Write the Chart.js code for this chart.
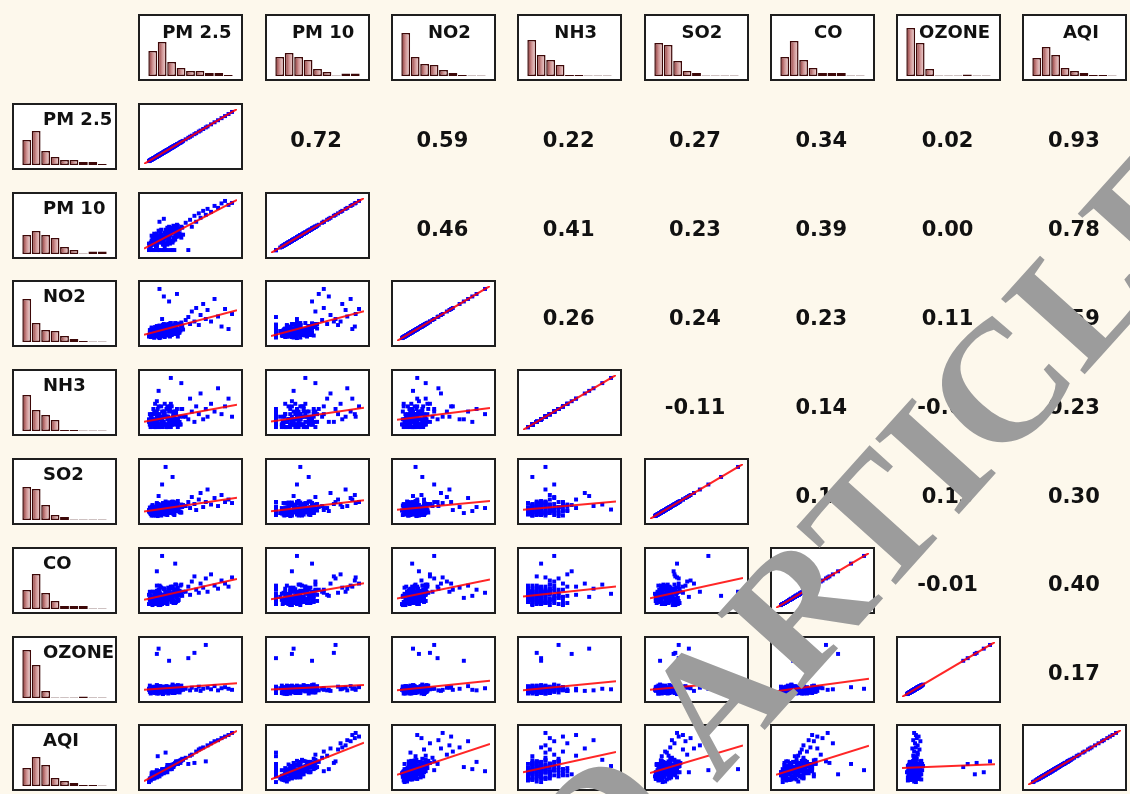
<!DOCTYPE html>
<html lang="en">
<head>
<meta charset="utf-8">
<title>Matriz de correlación</title>
<script src="https://cdn.jsdelivr.net/npm/chart.js@4.4.1/dist/chart.umd.min.js"></script>
<style>
  html, body { margin: 0; padding: 0; }
  body { width: 1130px; height: 794px; background: #fdf8ec; position: relative; overflow: hidden; }
  .cell { position: absolute; width: 105px; height: 67px; box-sizing: border-box; border: 2px solid #1e1e1e; background: #fff; overflow: hidden; }
  .cell canvas { position: absolute; left: 0; top: 0; }
  .titulo { position: absolute; font: bold 18px 'DejaVu Sans', sans-serif; line-height: 1; color: #111; white-space: nowrap; }
  .arriba { left: 0; width: 100%; top: 7px; text-align: center; padding-left: 12px; box-sizing: border-box; }
  .lado { left: 29px; top: 5px; }
  .corr { position: absolute; width: 105px; height: 67px; display: flex; align-items: center; justify-content: center; font: bold 21px 'DejaVu Sans', sans-serif; color: #111; transform: translate(-1px, 4px); }
  #marca { position: absolute; left: 0; top: 0; pointer-events: none; z-index: 10; }
</style>
</head>
<body>
<svg id="marca" width="1130" height="794">
  <g transform="translate(716 784) rotate(-48)" font-family="'Liberation Serif', serif" font-weight="bold" font-size="172" fill="#9c9c9c">
    <text x="0" y="0">ARTICLE PREVIEW</text>
    <text x="-43" y="0" text-anchor="end">ACCEPTED</text>
  </g>
</svg>
<script>
// Nombres de las variables
const variables = ['PM 2.5', 'PM 10', 'NO2', 'NH3', 'SO2', 'CO', 'OZONE', 'AQI'];

// Observaciones (mismo índice = misma medición)
const pm25 = [5, 8, 12, 15, 18, 22, 25, 28, 32, 35,
  6, 9, 13, 16, 19, 23, 26, 29, 33, 38,
  4, 7, 10, 14, 17, 20, 24, 27, 30, 36,
  3, 11, 14, 18, 21, 24, 28, 31, 34, 40,
  7, 9, 12, 15, 19, 22, 25, 29, 32, 37,
  5, 8, 13, 16, 20, 23, 26, 30, 34, 42,
  10, 17, 21, 27, 31, 36, 6, 12, 24, 39,
  45, 48, 50, 52, 55, 57, 60, 62, 65, 68,
  70, 74, 78, 82, 86, 90, 94, 98, 20, 15,
  26, 35, 28, 14, 40, 22, 30, 18, 33, 12,
  4, 7, 9, 11, 13, 15, 17, 19, 21, 23,
  25, 27, 29, 31, 33, 3, 5, 6, 8, 10,
  12, 14, 16, 18, 20, 22, 24, 26, 28, 30,
  32, 34, 36, 38, 41, 6, 9, 12, 15, 18,
  21, 24, 27, 30, 33, 36, 39, 4, 8, 11,
  14, 17, 20, 23, 26, 29, 31, 35, 13, 22];
const pm10 = [12, 20, 9, 28, 16, 34, 1, 40, 24, 45,
  30, 1, 22, 36, 14, 26, 48, 1, 30, 42,
  8, 18, 26, 1, 32, 20, 38, 14, 46, 28,
  14, 10, 40, 1, 24, 30, 18, 50, 36, 26,
  24, 16, 34, 1, 22, 42, 18, 34, 1, 44,
  6, 28, 18, 30, 12, 36, 26, 1, 40, 32,
  12, 26, 8, 44, 20, 38, 1, 30, 16, 30,
  56, 1, 62, 48, 70, 58, 75, 66, 80, 72,
  84, 78, 90, 86, 95, 100, 92, 96, 64, 58,
  44, 52, 36, 22, 48, 30, 40, 26, 44, 20,
  10, 15, 22, 8, 26, 18, 32, 12, 28, 38,
  22, 34, 44, 26, 48, 1, 16, 11, 24, 30,
  14, 20, 40, 24, 1, 30, 46, 20, 36, 16,
  42, 28, 50, 34, 46, 20, 34, 10, 26, 18,
  36, 12, 30, 40, 22, 44, 32, 12, 1, 28,
  16, 42, 26, 14, 38, 20, 46, 30, 1, 1];
const no2 = [4, 10, 6, 14, 22, 8, 18, 26, 12, 30,
  16, 3, 20, 7, 28, 14, 24, 10, 32, 20,
  12, 6, 24, 14, 9, 30, 16, 5, 26, 18,
  8, 18, 11, 22, 4, 28, 15, 21, 10, 33,
  20, 5, 15, 27, 13, 8, 25, 17, 29, 12,
  16, 9, 19, 3, 21, 11, 29, 14, 24, 19,
  13, 25, 7, 31, 16, 5, 23, 10, 20, 27,
  38, 44, 30, 55, 35, 62, 28, 48, 70, 40,
  58, 35, 80, 45, 25, 60, 20, 50, 85, 100,
  75, 90, 20, 15, 30, 18, 26, 40, 14, 22,
  7, 12, 3, 16, 9, 21, 13, 6, 25, 17,
  30, 11, 22, 15, 27, 5, 14, 20, 8, 18,
  26, 4, 16, 23, 12, 28, 7, 19, 32, 10,
  24, 18, 30, 13, 26, 10, 19, 13, 2, 24,
  15, 9, 27, 20, 12, 31, 17, 18, 11, 22,
  6, 16, 29, 14, 21, 8, 25, 14, 18, 12];
const nh3 = [5, 10, 15, 5, 20, 10, 25, 15, 30, 10,
  20, 35, 10, 25, 15, 40, 5, 20, 30, 15,
  10, 30, 5, 20, 45, 10, 25, 15, 35, 20,
  15, 5, 25, 10, 50, 20, 5, 30, 15, 40,
  10, 20, 35, 5, 15, 25, 10, 45, 20, 10,
  25, 15, 40, 10, 30, 5, 20, 15, 35, 25,
  50, 20, 10, 15, 25, 5, 30, 20, 45, 10,
  25, 20, 60, 35, 15, 45, 30, 70, 20, 40,
  25, 50, 35, 80, 30, 45, 60, 25, 15, 30,
  20, 40, 100, 75, 90, 25, 10, 35, 20, 55,
  10, 15, 20, 5, 30, 10, 25, 15, 35, 5,
  20, 40, 10, 25, 15, 20, 5, 25, 10, 30,
  15, 45, 20, 5, 35, 10, 25, 15, 50, 20,
  10, 30, 15, 25, 40, 15, 5, 25, 10, 20,
  30, 5, 45, 15, 35, 20, 10, 30, 40, 10,
  20, 15, 25, 5, 35, 10, 30, 20, 10, 25];
const so2 = [6, 3, 12, 8, 15, 5, 20, 10, 25, 14,
  18, 4, 22, 9, 28, 6, 16, 30, 12, 20,
  10, 24, 7, 14, 3, 26, 11, 19, 8, 32,
  14, 5, 17, 10, 22, 4, 27, 13, 18, 9,
  20, 11, 26, 6, 15, 31, 10, 21, 7, 16,
  8, 17, 2, 23, 13, 28, 9, 19, 12, 24,
  12, 5, 18, 26, 6, 15, 21, 9, 29, 11,
  22, 30, 18, 40, 26, 14, 35, 48, 20, 30,
  55, 25, 38, 22, 44, 30, 35, 28, 12, 18,
  8, 20, 15, 42, 25, 100, 80, 65, 28, 24,
  9, 4, 13, 7, 18, 11, 24, 6, 15, 27,
  9, 20, 12, 30, 17, 11, 16, 3, 21, 8,
  14, 26, 5, 19, 12, 23, 8, 29, 14, 22,
  4, 17, 26, 10, 20, 6, 17, 28, 13, 7,
  25, 16, 11, 31, 14, 19, 9, 19, 14, 3,
  22, 12, 27, 6, 18, 24, 11, 29, 10, 16];
const co = [10, 18, 6, 24, 12, 30, 20, 15, 35, 26,
  8, 22, 14, 40, 10, 18, 32, 12, 44, 22,
  16, 4, 28, 20, 12, 36, 8, 26, 16, 30,
  24, 10, 34, 6, 22, 14, 38, 24, 10, 28,
  30, 6, 16, 42, 18, 8, 30, 20, 34, 14,
  20, 12, 26, 4, 36, 16, 24, 40, 20, 30,
  8, 22, 14, 28, 12, 38, 14, 32, 6, 26,
  30, 40, 24, 50, 60, 34, 28, 46, 38, 56,
  30, 64, 42, 36, 52, 46, 40, 58, 22, 28,
  18, 34, 26, 20, 44, 30, 22, 100, 85, 70,
  14, 8, 20, 26, 10, 32, 16, 22, 12, 28,
  38, 18, 24, 8, 34, 6, 22, 12, 30, 16,
  42, 4, 26, 14, 36, 20, 10, 30, 40, 16,
  26, 44, 12, 32, 22, 18, 10, 28, 6, 24,
  34, 14, 20, 36, 8, 30, 42, 30, 6, 20,
  12, 38, 24, 16, 32, 10, 28, 18, 20, 26];
const ozone = [3, 8, 12, 5, 10, 15, 7, 11, 4, 14,
  9, 13, 6, 17, 2, 12, 8, 16, 10, 5,
  18, 7, 11, 4, 14, 9, 13, 6, 20, 12,
  10, 15, 3, 11, 8, 16, 5, 13, 9, 18,
  6, 12, 19, 7, 14, 10, 3, 12, 15, 8,
  13, 5, 10, 16, 7, 11, 14, 4, 17, 10,
  8, 15, 12, 6, 18, 11, 14, 7, 13, 9,
  12, 70, 9, 14, 80, 10, 16, 8, 12, 95,
  14, 11, 17, 9, 13, 15, 12, 10, 10, 13,
  65, 9, 11, 88, 12, 14, 8, 12, 15, 78,
  6, 11, 16, 4, 12, 8, 14, 3, 10, 17,
  6, 13, 9, 15, 5, 12, 7, 15, 10, 4,
  18, 9, 13, 7, 11, 16, 5, 12, 8, 14,
  10, 6, 17, 9, 13, 8, 14, 3, 10, 16,
  7, 12, 15, 11, 6, 19, 10, 14, 5, 12,
  17, 9, 4, 13, 8, 16, 11, 6, 10, 14];
const aqi = [8, 12, 16, 20, 22, 28, 30, 33, 38, 40,
  14, 18, 20, 26, 24, 28, 32, 35, 40, 44,
  10, 24, 14, 22, 20, 26, 34, 30, 36, 42,
  6, 18, 24, 30, 26, 38, 32, 34, 45, 46,
  20, 12, 28, 16, 30, 24, 36, 30, 40, 42,
  12, 20, 16, 24, 22, 30, 38, 34, 44, 48,
  18, 20, 28, 34, 36, 40, 22, 26, 24, 42,
  52, 40, 56, 58, 42, 64, 68, 70, 72, 45,
  76, 80, 84, 86, 90, 93, 96, 100, 30, 26,
  34, 44, 36, 24, 48, 30, 38, 28, 40, 20,
  9, 12, 15, 17, 19, 22, 23, 26, 27, 31,
  33, 34, 37, 38, 41, 5, 10, 11, 14, 16,
  20, 18, 25, 24, 28, 29, 30, 35, 32, 39,
  40, 41, 45, 46, 50, 16, 20, 14, 22, 28,
  26, 32, 30, 36, 42, 40, 47, 12, 22, 24,
  20, 26, 30, 27, 34, 31, 38, 44, 55, 62];

// Alturas de los histogramas (9 clases cada uno)
const histPm25 = [25, 34, 14, 8, 5, 5, 3, 3, 1];
const histPm10 = [19, 23, 19, 16, 7, 4, 0.5, 2.5, 2.5];
const histNo2 = [43, 19, 12, 11, 6, 3, 1, 0.5, 0.5];
const histNh3 = [36, 21, 16, 11, 1, 1, 0.4, 0.4, 0.4];
const histSo2 = [33, 31, 15, 5, 3, 0.4, 0.4, 0.4, 0.4];
const histCo = [19, 35, 16, 8, 3, 3, 3, 0.4, 0.4];
const histOzone = [48, 33, 7, 0.4, 0.4, 0.4, 1.5, 0.4, 0.4];
const histAqi = [18, 29, 21, 8, 5, 3, 1, 1, 0.4];

// Coeficientes de correlación (triángulo superior, una fila por variable)
const corrPm25 = [0.72, 0.59, 0.22, 0.27, 0.34, 0.02, 0.93];
const corrPm10 = [0.46, 0.41, 0.23, 0.39, 0.00, 0.78];
const corrNo2 = [0.26, 0.24, 0.23, 0.11, 0.59];
const corrNh3 = [-0.11, 0.14, -0.01, 0.23];
const corrSo2 = [0.17, 0.13, 0.30];
const corrCo = [-0.01, 0.40];
const corrOzone = [0.17];

const series = [pm25, pm10, no2, nh3, so2, co, ozone, aqi];
const histogramas = [histPm25, histPm10, histNo2, histNh3, histSo2, histCo, histOzone, histAqi];
const correlaciones = [corrPm25, corrPm10, corrNo2, corrNh3, corrSo2, corrCo, corrOzone];

// Geometría de la cuadrícula
const x0 = 12, y0 = 14, pasoX = 126.3, pasoY = 88.8;
const ancho = 105, alto = 67;

function opcionesBase() {
  return {
    responsive: false,
    animation: false,
    events: [],
    plugins: { legend: { display: false }, tooltip: { enabled: false } }
  };
}

function crearCaja(fila, col) {
  const div = document.createElement('div');
  div.className = 'cell';
  div.style.left = (x0 + col * pasoX) + 'px';
  div.style.top = (y0 + fila * pasoY) + 'px';
  const canvas = document.createElement('canvas');
  canvas.width = ancho - 4;
  canvas.height = alto - 4;
  div.appendChild(canvas);
  document.body.appendChild(div);
  return { div, canvas };
}

// Degradado de cada barra: oscuro a la izquierda, claro a la derecha
function rellenoBarra(ctx, n) {
  const chart = ctx.chart;
  const escala = chart.scales.x;
  if (!escala || ctx.dataIndex === undefined) return '#c08080';
  const cx = escala.getPixelForValue(ctx.dataIndex);
  const mitad = escala.width / n / 2 * 0.93;
  if (!isFinite(cx) || !isFinite(mitad) || mitad <= 0) return '#c08080';
  const g = chart.ctx.createLinearGradient(cx - mitad, 0, cx + mitad, 0);
  g.addColorStop(0, '#8a2e2e');
  g.addColorStop(0.5, '#cf9494');
  g.addColorStop(1, '#f4dede');
  return g;
}

function histograma(fila, col, v, lateral) {
  const { div, canvas } = crearCaja(fila, col);
  const cuentas = histogramas[v];
  const opciones = opcionesBase();
  opciones.layout = { padding: { left: 8, right: 8, top: 0, bottom: 3 } };
  opciones.scales = {
    x: { display: false },
    y: { display: false, min: 0, max: 60 }
  };
  new Chart(canvas, {
    type: 'bar',
    data: {
      labels: cuentas.map((_, i) => i),
      datasets: [{
        data: cuentas,
        backgroundColor: ctx => rellenoBarra(ctx, cuentas.length),
        borderColor: '#3d0808',
        borderWidth: 1.5,
        borderSkipped: false,
        categoryPercentage: 1,
        barPercentage: 0.93
      }]
    },
    options: opciones
  });
  const t = document.createElement('div');
  t.className = 'titulo ' + (lateral ? 'lado' : 'arriba');
  t.textContent = variables[v];
  div.appendChild(t);
}

function rango(valores) {
  const min = Math.min(...valores);
  const max = Math.max(...valores);
  const m = (max - min) * 0.06;
  return { min: min - m, max: max + m };
}

// Recta de mínimos cuadrados
function recta(xs, ys) {
  const n = xs.length;
  const mx = xs.reduce((a, b) => a + b, 0) / n;
  const my = ys.reduce((a, b) => a + b, 0) / n;
  let sxy = 0, sxx = 0;
  xs.forEach((x, i) => {
    sxy += (x - mx) * (ys[i] - my);
    sxx += (x - mx) * (x - mx);
  });
  const b = sxy / sxx;
  return { a: my - b * mx, b: b };
}

function dispersion(fila, col, vy, vx) {
  const { canvas } = crearCaja(fila, col);
  const xs = series[vx];
  const ys = series[vy];
  const rx = rango(xs);
  const ry = rango(ys);
  const ajuste = recta(xs, ys);
  const puntos = xs.map((x, i) => ({ x: x, y: ys[i] }));
  const linea = [
    { x: rx.min, y: ajuste.a + ajuste.b * rx.min },
    { x: rx.max, y: ajuste.a + ajuste.b * rx.max }
  ];
  const opciones = opcionesBase();
  opciones.layout = { padding: 0 };
  opciones.scales = {
    x: { type: 'linear', display: false, min: rx.min, max: rx.max },
    y: { type: 'linear', display: false, min: ry.min, max: ry.max }
  };
  new Chart(canvas, {
    type: 'scatter',
    data: {
      datasets: [
        { type: 'line', data: linea, borderColor: 'rgba(255, 0, 0, 0.85)', borderWidth: 2, pointRadius: 0, order: 0 },
        { data: puntos, pointStyle: 'rect', pointRadius: 2.8, backgroundColor: '#0000ff', borderWidth: 0, order: 1 }
      ]
    },
    options: opciones
  });
}

function textoCorr(fila, col, valor) {
  const div = document.createElement('div');
  div.className = 'corr';
  div.style.left = (x0 + col * pasoX) + 'px';
  div.style.top = (y0 + fila * pasoY) + 'px';
  div.textContent = valor.toFixed(2);
  document.body.appendChild(div);
}

// Construir la matriz
for (let c = 1; c <= 8; c++) histograma(0, c, c - 1, false);
for (let f = 1; f <= 8; f++) {
  histograma(f, 0, f - 1, true);
  for (let c = 1; c <= 8; c++) {
    const vy = f - 1;
    const vx = c - 1;
    if (vx <= vy) dispersion(f, c, vy, vx);
    else textoCorr(f, c, correlaciones[vy][vx - vy - 1]);
  }
}
</script>
</body>
</html>
